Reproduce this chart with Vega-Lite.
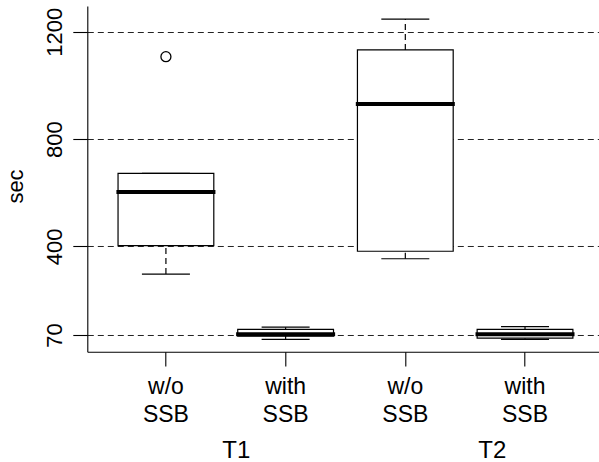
{
  "$schema": "https://vega.github.io/schema/vega-lite/v6.json",
  "width": 512,
  "height": 345.7,
  "autosize": {"type": "none"},
  "padding": {"left": 87.3, "top": 6, "right": 0, "bottom": 110.3},
  "background": "white",
  "config": {
    "view": {"stroke": null},
    "font": "Liberation Sans",
    "axis": {
      "domainColor": "black",
      "domainWidth": 1.1,
      "tickColor": "black",
      "tickWidth": 1.1,
      "labelColor": "black",
      "titleColor": "black",
      "labelFont": "Liberation Sans",
      "titleFont": "Liberation Sans",
      "titleFontWeight": "normal"
    },
    "axisY": {
      "grid": true,
      "gridDash": [6, 4],
      "gridColor": "#222",
      "gridWidth": 1,
      "gridOpacity": 1,
      "tickSize": 14.5,
      "labelFontSize": 22,
      "labelAngle": 270,
      "labelAlign": "center",
      "labelBaseline": "alphabetic",
      "labelPadding": 11,
      "labelOverlap": false,
      "format": "d",
      "titleFontSize": 22,
      "titleAngle": 270,
      "titleAlign": "center",
      "titleBaseline": "alphabetic",
      "titleX": -65,
      "titleY": 180
    }
  },
  "datasets": {
    "boxes": [
      {"key": "T1 w/o SSB", "grp": "T1", "lo": 297, "q1": 403, "med": 603, "q3": 672, "hi": 672},
      {"key": "T1 with SSB", "grp": "T1", "lo": 54, "q1": 66, "med": 73, "q3": 91, "hi": 99},
      {"key": "T2 w/o SSB", "grp": "T2", "lo": 354, "q1": 382, "med": 931, "q3": 1132, "hi": 1247},
      {"key": "T2 with SSB", "grp": "T2", "lo": 54, "q1": 58, "med": 73, "q3": 91, "hi": 101}
    ],
    "outliers": [{"key": "T1 w/o SSB", "sec": 1107}],
    "groups": [{"grp": "T1"}, {"grp": "T2"}]
  },
  "resolve": {"scale": {"x": "independent"}, "axis": {"x": "independent"}},
  "layer": [
    {
      "encoding": {
        "x": {
          "field": "key",
          "type": "nominal",
          "sort": null,
          "scale": {
            "domain": ["T1 w/o SSB", "T1 with SSB", "T2 w/o SSB", "T2 with SSB"],
            "paddingInner": 0.2,
            "paddingOuter": 0.2387,
            "align": 0.538
          },
          "axis": {
            "title": null,
            "orient": "bottom",
            "labelExpr": "split(slice(datum.value, 3), ' ')",
            "labelFontSize": 23,
            "labelLineHeight": 27.7,
            "labelAngle": 0,
            "labelAlign": "center",
            "labelBaseline": "alphabetic",
            "labelPadding": 28,
            "tickSize": 14.3,
            "grid": false
          }
        }
      },
      "layer": [
        {
          "data": {"name": "boxes"},
          "mark": {"type": "rule", "color": "black", "strokeWidth": 1.2, "strokeDash": [6, 4]},
          "encoding": {
            "y": {"field": "q3", "type": "quantitative", "title": "sec", "scale": {"domain": [7.8, 1295.7], "nice": false, "zero": false}, "axis": {"values": [70, 400, 800, 1200], "format": "d"}},
            "y2": {"field": "hi"}
          }
        },
        {
          "data": {"name": "boxes"},
          "mark": {"type": "rule", "color": "black", "strokeWidth": 1.2, "strokeDash": [6, 4]},
          "encoding": {
            "y": {"field": "lo", "type": "quantitative", "title": "sec", "scale": {"domain": [7.8, 1295.7], "nice": false, "zero": false}, "axis": {"values": [70, 400, 800, 1200], "format": "d"}},
            "y2": {"field": "q1"}
          }
        },
        {
          "data": {"name": "boxes"},
          "mark": {"type": "bar", "fill": "white", "stroke": "black", "strokeWidth": 1.2, "opacity": 1},
          "encoding": {
            "y": {"field": "q1", "type": "quantitative", "title": "sec", "scale": {"domain": [7.8, 1295.7], "nice": false, "zero": false}, "axis": {"values": [70, 400, 800, 1200], "format": "d"}},
            "y2": {"field": "q3"}
          }
        },
        {
          "data": {"name": "boxes"},
          "mark": {"type": "tick", "orient": "horizontal", "color": "black", "opacity": 1, "thickness": 4, "size": 99},
          "encoding": {
            "y": {"field": "med", "type": "quantitative", "title": "sec", "scale": {"domain": [7.8, 1295.7], "nice": false, "zero": false}, "axis": {"values": [70, 400, 800, 1200], "format": "d"}}
          }
        },
        {
          "data": {"name": "boxes"},
          "mark": {"type": "tick", "orient": "horizontal", "color": "black", "opacity": 1, "thickness": 1.2, "size": 48},
          "encoding": {
            "y": {"field": "hi", "type": "quantitative", "title": "sec", "scale": {"domain": [7.8, 1295.7], "nice": false, "zero": false}, "axis": {"values": [70, 400, 800, 1200], "format": "d"}}
          }
        },
        {
          "data": {"name": "boxes"},
          "mark": {"type": "tick", "orient": "horizontal", "color": "black", "opacity": 1, "thickness": 1.2, "size": 48},
          "encoding": {
            "y": {"field": "lo", "type": "quantitative", "title": "sec", "scale": {"domain": [7.8, 1295.7], "nice": false, "zero": false}, "axis": {"values": [70, 400, 800, 1200], "format": "d"}}
          }
        },
        {
          "data": {"name": "outliers"},
          "mark": {"type": "point", "shape": "circle", "filled": false, "size": 100, "stroke": "black", "strokeWidth": 1.3, "opacity": 1},
          "encoding": {
            "y": {"field": "sec", "type": "quantitative", "title": "sec", "scale": {"domain": [7.8, 1295.7], "nice": false, "zero": false}, "axis": {"values": [70, 400, 800, 1200], "format": "d"}}
          }
        }
      ]
    },
    {
      "data": {"name": "groups"},
      "mark": {"type": "text", "opacity": 0},
      "encoding": {
        "x": {
          "field": "grp",
          "type": "nominal",
          "scale": {"domain": ["T1", "T2"], "paddingInner": 0, "paddingOuter": 0.0694, "align": 0.58},
          "axis": {
            "title": null,
            "orient": "bottom",
            "domain": false,
            "ticks": false,
            "tickSize": 0,
            "grid": false,
            "labelAngle": 0,
            "labelAlign": "center",
            "labelBaseline": "alphabetic",
            "labelFontSize": 24,
            "labelPadding": 105.6
          }
        },
        "text": {"field": "grp"}
      }
    }
  ]
}
